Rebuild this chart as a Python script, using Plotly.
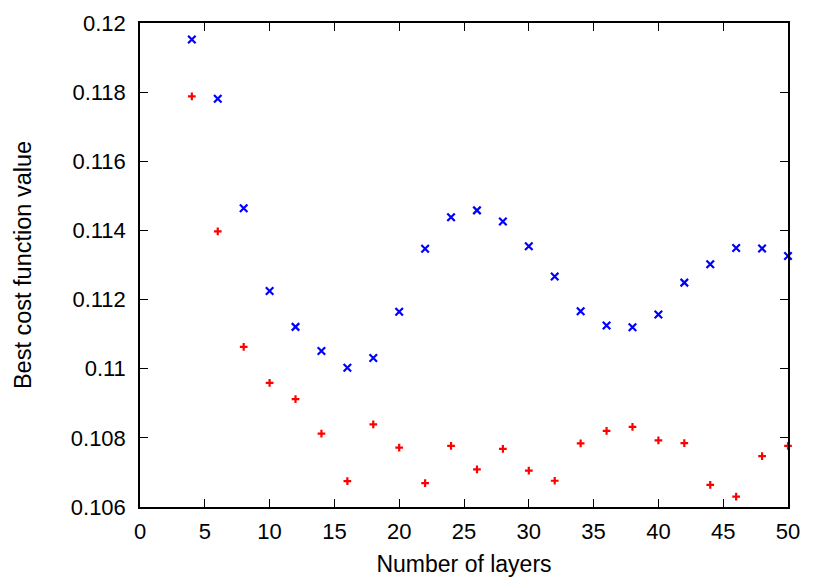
import plotly.graph_objects as go

layers = [4, 6, 8, 10, 12, 14, 16, 18, 20, 22, 24, 26, 28, 30, 32, 34, 36, 38, 40, 42, 44, 46, 48, 50]
blue_vals = [0.11952, 0.11781, 0.11464, 0.11225, 0.11121, 0.11051, 0.11003, 0.11031, 0.11165, 0.11347,
             0.11438, 0.11458, 0.11426, 0.11354, 0.11267, 0.11166, 0.11125, 0.11120, 0.11157, 0.11249,
             0.11302, 0.11349, 0.11348, 0.11326]
red_vals = [0.11788, 0.11397, 0.11063, 0.10959, 0.10912, 0.10812, 0.10675, 0.10839, 0.10772, 0.10669,
            0.10777, 0.10709, 0.10768, 0.10705, 0.10676, 0.10784, 0.10820, 0.10832, 0.10793, 0.10785,
            0.10664, 0.10630, 0.10747, 0.10777]

x_ticks = [0, 5, 10, 15, 20, 25, 30, 35, 40, 45, 50]
y_ticks = [0.106, 0.108, 0.11, 0.112, 0.114, 0.116, 0.118, 0.12]
y_tick_text = ["0.106", "0.108", "0.11", "0.112", "0.114", "0.116", "0.118", "0.12"]

FONT = "Liberation Sans, Arial, sans-serif"

fig = go.Figure()
fig.add_trace(go.Scatter(
    x=layers, y=blue_vals, mode="markers", cliponaxis=False, showlegend=False,
    marker=dict(symbol="x-thin-open", size=7.5, color="#0000ff", line=dict(width=2.2, color="#0000ff")),
))
fig.add_trace(go.Scatter(
    x=layers, y=red_vals, mode="markers", cliponaxis=False, showlegend=False,
    marker=dict(symbol="cross-thin-open", size=5.5, color="#ff0000", line=dict(width=2.2, color="#ff0000")),
))

axis_common = dict(
    showline=True, linecolor="black", linewidth=1.5, mirror="allticks",
    ticks="inside", ticklen=8, tickwidth=1, tickcolor="black",
    showgrid=False, zeroline=False, automargin=False,
    tickfont=dict(family=FONT, size=22, color="black"),
)

fig.update_xaxes(range=[0, 50], tickvals=x_ticks, ticktext=[str(v) for v in x_ticks],
                 ticklabelstandoff=4,
                 title=dict(text="Number of layers", standoff=13,
                            font=dict(family=FONT, size=23, color="black")),
                 **axis_common)
fig.update_yaxes(range=[0.106, 0.12], tickvals=y_ticks, ticktext=y_tick_text,
                 ticklabelstandoff=8,
                 title=dict(text="Best cost function value", standoff=33,
                            font=dict(family=FONT, size=23.5, color="black")),
                 **axis_common)

fig.update_layout(
    width=822, height=573,
    margin=dict(l=132, r=42, t=15, b=74),
    plot_bgcolor="white", paper_bgcolor="white",
)

fig.write_html("out.html")
